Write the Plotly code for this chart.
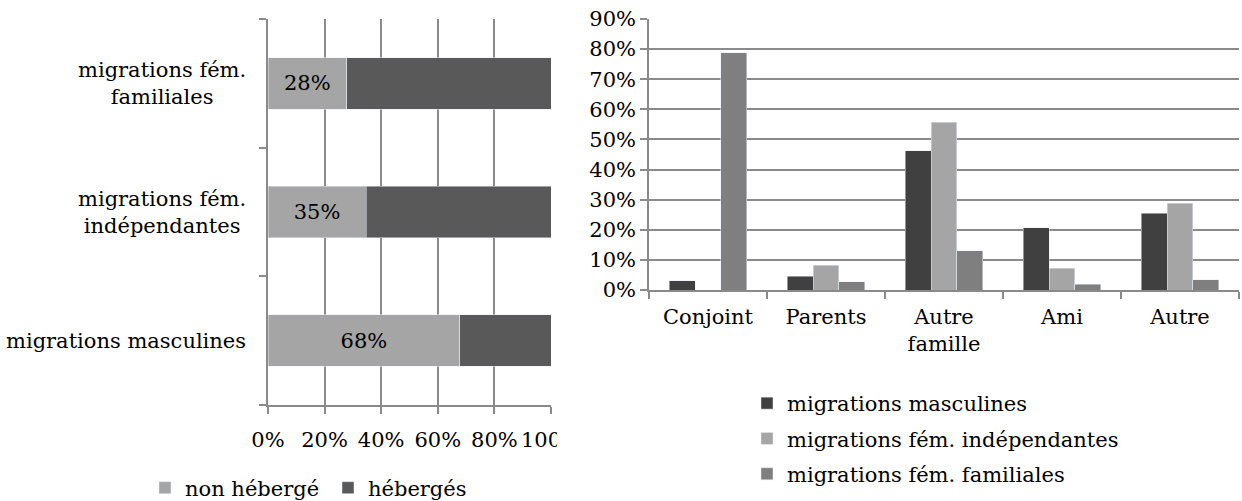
import plotly.graph_objects as go

W, H = 1242, 501
FONT = "DejaVu Serif"
FS = 21
GRID = "#8a8a8a"

# left chart: share of migrants not hosted (rest = hosted)
groups = ["migrations masculines", "migrations fém. indépendantes", "migrations fém. familiales"]
group_labels = ["migrations masculines", "migrations fém.<br>indépendantes", "migrations fém.<br>familiales"]
non_heberge = [67.8, 34.7, 27.8]
heberges = [32.2, 65.3, 72.2]
pct_ticks = [0, 20, 40, 60, 80, 100]

# right chart: who hosts them
hosts = ["Conjoint", "Parents", "Autre<br>famille", "Ami", "Autre"]
masculines = [0.030, 0.045, 0.463, 0.206, 0.255]
fem_independantes = [0.0, 0.083, 0.557, 0.073, 0.288]
fem_familiales = [0.788, 0.028, 0.130, 0.019, 0.034]


def px_x(p):
    return p / W


def px_y(p):
    return 1 - p / H


fig = go.Figure()

fig.add_trace(go.Bar(
    y=groups, x=non_heberge, orientation="h", name="non hébergé",
    marker_color="#a5a5a5", xaxis="x", yaxis="y", legend="legend",
    text=[f"{v:.0f}%" for v in non_heberge], textposition="inside",
    insidetextanchor="middle", textfont=dict(color="black", size=FS, family=FONT),
))
fig.add_trace(go.Bar(
    y=groups, x=heberges, orientation="h", name="hébergés",
    marker_color="#595959", xaxis="x", yaxis="y", legend="legend",
))

series = [
    ("migrations masculines", masculines, "#404040"),
    ("migrations fém. indépendantes", fem_independantes, "#a5a5a5"),
    ("migrations fém. familiales", fem_familiales, "#7f7f7f"),
]
for i, (name, vals, col) in enumerate(series):
    fig.add_trace(go.Bar(
        x=hosts, y=vals, name=name, marker_color=col,
        xaxis="x2", yaxis="y2", legend="legend2", legendgroup=name,
        offsetgroup=str(i), width=0.22, offset=-0.33 + 0.22 * i,
    ))

# centred multi-line category labels for the left chart
for g, lab in zip(groups, group_labels):
    fig.add_annotation(
        x=px_x(248), xref="paper", xanchor="right", y=g, yref="y",
        text=lab, showarrow=False, align="center",
        font=dict(size=FS, family=FONT, color="black"),
    )

# the last tick label of the left chart is cut off in the original
fig.add_shape(type="rect", xref="paper", yref="paper",
              x0=px_x(557), x1=px_x(615), y0=px_y(458), y1=px_y(420),
              fillcolor="white", line_width=0, layer="above")

fig.update_layout(
    width=W, height=H,
    margin=dict(l=0, r=0, t=0, b=0, autoexpand=False),
    paper_bgcolor="white", plot_bgcolor="white",
    font=dict(family=FONT, size=FS, color="black"),
    barmode="stack",
    showlegend=True,
    xaxis=dict(
        domain=[px_x(268), px_x(551)], range=[0, 100], anchor="y",
        tickmode="array", tickvals=pct_ticks,
        ticktext=[f"{v}%" for v in pct_ticks], ticklabelstandoff=8,
        showgrid=True, gridcolor=GRID, gridwidth=1.5,
        showline=True, linecolor=GRID, linewidth=1.5,
        ticks="outside", ticklen=7, tickcolor=GRID, tickwidth=1.5,
        zeroline=False, automargin=False,
    ),
    yaxis=dict(
        domain=[px_y(405), px_y(19)], anchor="x",
        categoryorder="array", categoryarray=groups,
        showticklabels=False, tickson="boundaries",
        ticks="outside", ticklen=7, tickcolor=GRID, tickwidth=1.5,
        showline=True, linecolor=GRID, linewidth=1.5, showgrid=False,
        automargin=False,
    ),
    xaxis2=dict(
        domain=[px_x(649), px_x(1239)], anchor="y2",
        tickson="boundaries", ticks="outside", ticklen=7,
        tickcolor=GRID, tickwidth=1.5, ticklabelstandoff=7,
        showline=True, linecolor=GRID, linewidth=1.5, showgrid=False,
        automargin=False,
    ),
    yaxis2=dict(
        domain=[px_y(290), px_y(19)], anchor="x2", range=[0, 0.9],
        dtick=0.1, tickformat=".0%",
        showgrid=True, gridcolor=GRID, gridwidth=1.5,
        showline=True, linecolor=GRID, linewidth=1.5,
        ticks="outside", ticklen=7, tickcolor=GRID, tickwidth=1.5,
        zeroline=False, automargin=False,
    ),
    bargap=0.6,
    legend=dict(
        orientation="h", x=px_x(145), y=px_y(488), yanchor="middle",
        xanchor="left", font=dict(size=FS, family=FONT),
        traceorder="normal", itemwidth=30, entrywidth=138,
    ),
    legend2=dict(
        orientation="v", x=px_x(747), y=px_y(383), yanchor="top",
        xanchor="left", font=dict(size=FS, family=FONT),
        tracegroupgap=5, itemwidth=30,
    ),
)

# drop the default 8px body margin so the figure sits at the page origin
fig.write_html(
    "out.html",
    config={"displayModeBar": False},
    post_script="document.body.style.margin='0';",
)
